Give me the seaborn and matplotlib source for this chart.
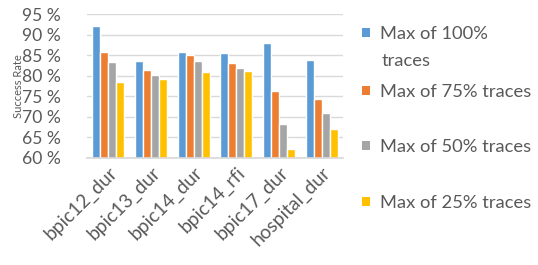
import matplotlib
matplotlib.use("Agg")
import matplotlib.pyplot as plt
import seaborn as sns
import pandas as pd
from matplotlib.patches import Patch

categories = ["bpic12_dur", "bpic13_dur", "bpic14_dur", "bpic14_rfi", "bpic17_dur", "hospital_dur"]
series_names = ["Max of 100% traces", "Max of 75% traces", "Max of 50% traces", "Max of 25% traces"]
max100 = [92.2, 83.5, 85.7, 85.5, 88.0, 83.8]
max75 = [85.8, 81.5, 85.0, 83.2, 76.4, 74.3]
max50 = [83.4, 80.1, 83.5, 81.9, 68.2, 70.9]
max25 = [78.5, 79.1, 80.8, 81.1, 62.2, 67.0]
yticks = [60, 65, 70, 75, 80, 85, 90, 95]
colors = ["#5B9BD5", "#ED7D31", "#A5A5A5", "#FFC000"]

rows = []
for name, vals in zip(series_names, [max100, max75, max50, max25]):
    for c, v in zip(categories, vals):
        rows.append({"cat": c, "series": name, "value": v})
df = pd.DataFrame(rows)

sns.set_theme(style="white")
plt.rcParams["font.family"] = ["Lato", "DejaVu Sans"]
text_color = "#595959"

fig = plt.figure(figsize=(5.38, 2.65), dpi=100)
ax = fig.add_axes([0.162, 0.404, 0.4755, 0.543])
sns.barplot(data=df, x="cat", y="value", hue="series", order=categories,
            hue_order=series_names, palette=colors, width=0.75, gap=0,
            saturation=1, legend=False, ax=ax, errorbar=None)
ax.set_ylim(60, 95)
ax.set_xlim(-0.5, len(categories) - 0.5)
ax.set_yticks(yticks)
ax.set_yticklabels([f"{t} %" for t in yticks], fontsize=12.6, color=text_color)
ax.set_xticks(range(len(categories)))
ax.set_xticklabels(categories, rotation=45, ha="right", rotation_mode="anchor",
                   fontsize=13.8, color=text_color)
ax.tick_params(axis="both", length=0, pad=4)
ax.tick_params(axis="y", pad=19)
ax.set_xlabel("")
ax.set_ylabel("Success Rate", fontsize=8, color=text_color)
ax.yaxis.set_label_coords(-0.248, 0.5)
ax.grid(axis="y", color="#D9D9D9", linewidth=1)
ax.set_axisbelow(True)
for s in ["top", "right", "left"]:
    ax.spines[s].set_visible(False)
ax.spines["bottom"].set_color("#D9D9D9")

ys = [0.872, 0.653, 0.446, 0.234]
labels = ["Max of 100%", "Max of 75% traces", "Max of 50% traces", "Max of 25% traces"]
for lab, col, y in zip(labels, colors, ys):
    fig.legend(handles=[Patch(facecolor=col, edgecolor="none")], labels=[lab],
               loc="center left", bbox_to_anchor=(0.673, y), frameon=False,
               fontsize=13.2, handlelength=0.42, handleheight=0.42,
               handletextpad=0.55, borderpad=0, borderaxespad=0,
               labelcolor=text_color)
fig.text(0.709, 0.770, "traces", fontsize=13.2, color=text_color, va="center", ha="left")

fig.savefig("out.png", dpi=100)
